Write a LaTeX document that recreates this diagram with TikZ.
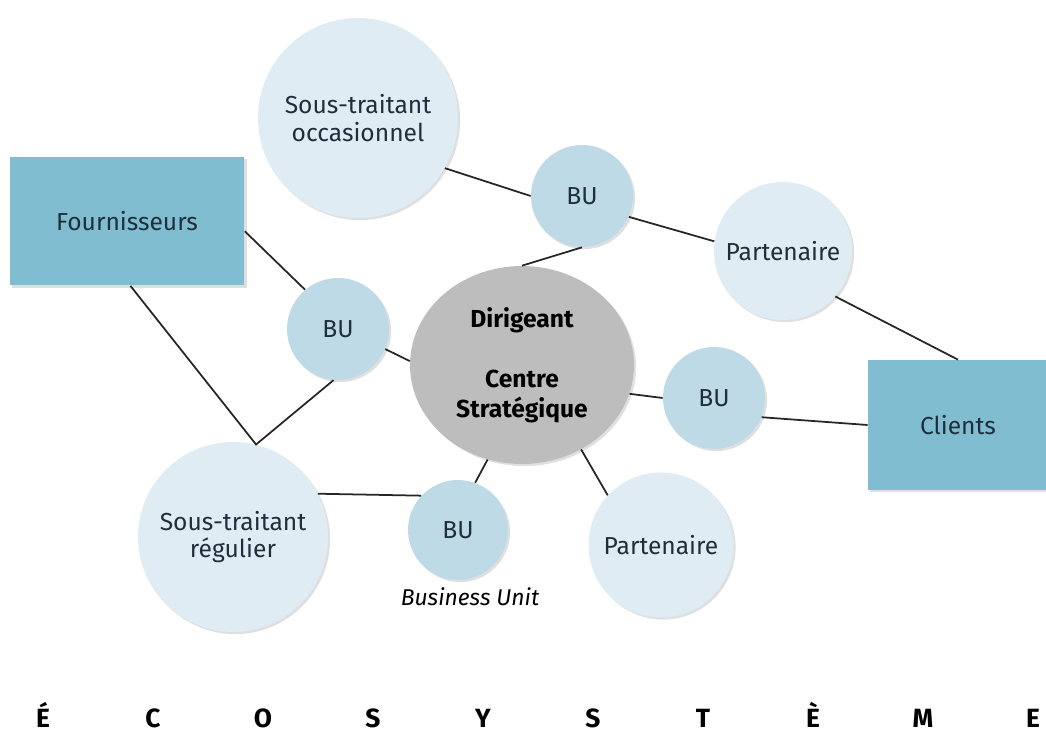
\documentclass[tikz,border=0pt]{standalone}
\usepackage{fontspec}
\setmainfont{Fira Sans}
\usepackage{tikz}
\usetikzlibrary{shapes.geometric,shadows}

\definecolor{bleubox}{HTML}{80BDD0}
\definecolor{bleuclair}{HTML}{DFECF4}
\definecolor{bleubu}{HTML}{BFDAE7}
\definecolor{grisdir}{HTML}{BDBDBD}
\definecolor{encre}{HTML}{1F2F3A}

\tikzset{
    ombre/.style={drop shadow={shadow xshift=1.2pt,shadow yshift=-1.2pt,opacity=0.25}},
    boite/.style={rectangle,fill=bleubox,ombre,text=encre,font=\fontsize{14}{16}\selectfont,inner sep=0pt},
    rond/.style={circle,fill=bleuclair,ombre,text=encre,align=center,font=\fontsize{14}{15.5}\selectfont,inner sep=0pt},
    bu/.style={circle,fill=bleubu,ombre,text=encre,font=\fontsize{14}{16}\selectfont,inner sep=0pt,minimum size=2.04cm},
    lien/.style={draw=black!85,line width=1pt},
    lettre/.style={font=\fontsize{15}{17}\selectfont\bfseries,text=black,anchor=base,inner sep=0pt}
}

\begin{document}
\begin{tikzpicture}[x=0.02cm,y=-0.02cm]
                \useasboundingbox (0,0) rectangle (1046,733);
                \node[boite,minimum width=4.7cm,minimum height=2.58cm] (fourn) at (127,221) {Fournisseurs};
                \node[boite,minimum width=3.6cm,minimum height=2.6cm] (clients) at (958,425) {Clients};
                \node[rond,minimum size=4cm] (occas) at (358,118) {Sous-traitant\\occasionnel};
                \node[rond,minimum size=2.76cm] (parthaut) at (783,251) {Partenaire};
                \node[rond,minimum size=3.8cm] (regul) at (233,537) {Sous-traitant\\régulier};
                \node[rond,minimum size=2.9cm] (partbas) at (661,545) {Partenaire};
                \node[bu] (buhaut) at (582,196) {BU};
                \node[bu] (bugauche) at (338,329) {BU};
                \node[bu] (budroite) at (714,398) {BU};
                \node[bu,minimum size=2cm] (bubas) at (458,530) {BU};
                \node[ellipse,fill=grisdir,ombre,inner sep=0pt,minimum width=4.48cm,minimum height=3.96cm,
                      align=center,font=\fontsize{14}{17}\selectfont\bfseries] (dirig) at (522,365)
                      {Dirigeant\\[17pt]Centre\\Stratégique};
                \node[font=\fontsize{13}{15}\selectfont\itshape] (legende) at (470,597) {Business Unit};
                \draw[lien] (occas.-30) -- (buhaut.180);
                \draw[lien] (buhaut.-24) -- (parthaut.172);
                \draw[lien] (buhaut.south) -- (dirig.north);
                \draw[lien] (fourn.-5) -- (bugauche.130);
                \draw[lien] (fourn.-87) -- (regul.76) -- (bugauche.-95);
                \draw[lien] (bugauche.-23) -- (dirig.178);
                \draw[lien] (dirig.-15) -- (budroite.west);
                \draw[lien] (budroite.-22) -- (clients.west);
                \draw[lien] (parthaut.-41) -- (clients.north);
                \draw[lien] (regul.27) -- (bubas.137);
                \draw[lien] (dirig.-110) -- (bubas.70);
                \draw[lien] (dirig.-55) -- (partbas.137);
                \foreach \lt [count=\i from 0] in {É,C,O,S,Y,S,T,È,M,E}
                    \node[lettre] (lettre\i) at ({43+110*\i},727) {\lt};
            \end{tikzpicture}
\end{document}
